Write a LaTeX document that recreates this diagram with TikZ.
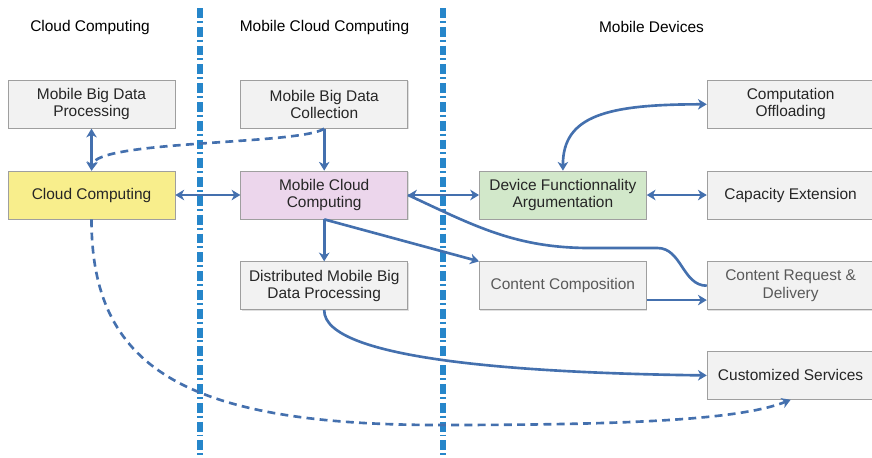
\documentclass[tikz,border=0pt]{standalone}
\usepackage{fontspec}
\setmainfont{Liberation Sans}
\usetikzlibrary{arrows.meta, positioning, shadows}
\definecolor{linkblue}{RGB}{68,112,174}
\definecolor{divblue}{RGB}{38,134,202}
\definecolor{boxgray}{RGB}{242,242,242}
\definecolor{boxyellow}{RGB}{248,238,140}
\definecolor{boxpink}{RGB}{236,214,236}
\definecolor{boxgreen}{RGB}{210,232,202}

\begin{document}
\begin{tikzpicture}[node distance=0.84cm and 1.3cm, font=\fontsize{8.8}{9.8}\selectfont,
    >={Stealth[length=5pt,width=6pt,inset=1.5pt]},
    box/.style={draw=gray!75, fill=boxgray, text=black!85, align=center, minimum width=3.34cm, minimum height=0.96cm, inner sep=2pt,
        drop shadow={shadow xshift=0.6pt, shadow yshift=-0.6pt, opacity=0.25}},
    link/.style={draw=linkblue, line width=1.5pt},
    dashlink/.style={link, dash pattern=on 4.5pt off 3pt},
    divider/.style={divblue, line width=3pt, dash pattern=on 5.6pt off 1.7pt on 1.1pt off 2.3pt}
]
  \useasboundingbox (0,0) rectangle (17.44,-9.14);

  % Column headers
  \node (hcc) at (1.8,-0.54) {Cloud Computing};
  \node (hmcc) at (6.49,-0.54) {Mobile Cloud Computing};
  \node (hmd) at (13.03,-0.54) {Mobile Devices};

  % Dividers
  \draw[divider] (4.0,-0.16) -- (4.0,-9.14);
  \draw[divider] (8.86,-0.16) -- (8.86,-9.14);

  \node[box, fill=boxyellow] (cc) at (1.83,-3.9) {Cloud Computing};
  \node[box, above=of cc] (mbdp) {Mobile Big Data\\Processing};
  \node[box, fill=boxpink, right=of cc] (mcc) {Mobile Cloud\\Computing};
  \node[box, above=of mcc] (mbdc) {Mobile Big Data\\Collection};
  \node[box, below=of mcc] (dist) {Distributed Mobile Big\\Data Processing};
  \node[box, fill=boxgreen, right=1.42cm of mcc] (dfa) {Device Functionnality\\Argumentation};
  \node[box, right=1.2cm of dfa] (cap) {Capacity Extension};
  \node[box, above=of cap] (off) {Computation\\Offloading};
  \node[box, text=black!65, below=of dfa] (comp) {Content Composition};
  \node[box, text=black!65, below=of cap] (crd) {Content Request \&\\Delivery};
  \node[box, below=0.82cm of crd] (cust) {Customized Services};

  \draw[link, <->] (mbdp) -- (cc);
  \draw[link, ->] (mbdc) -- (mcc);
  \draw[link, <->] (cc) -- (mcc);
  \draw[link, <->] (mcc) -- (dfa);
  \draw[link, <->] (dfa) -- (cap);
  \draw[link, <->] (dfa.north) .. controls +(0,1.1) and +(-2.0,0) .. (off.west);
  \draw[link, ->] (mcc) -- (dist);
  \draw[link, ->] (mcc.south) -- (comp.north west);
  \draw[link, ->] (comp.east |- crd.south) ++(0,0.2) coordinate (ce) -- (ce -| crd.west);
  \draw[link] (crd.west) to[out=180,in=0] (13.15,-4.96) -- (11.8,-4.96) to[out=180,in=-25] (mcc.east);
  \draw[link, ->] (dist.south) .. controls (6.47,-7.2) and (10.5,-7.46) .. (cust.west);

  % Dashed links
  \draw[dashlink, ->] (mbdc.south) .. controls (6.0,-2.9) and (1.9,-2.8) .. (cc.north);
  \coordinate (low) at (8.8,-8.5);
  \draw[dashlink, ->] (cc.south) .. controls (1.83,-7.3) and (3.6,-8.5) .. (low)
    .. controls (12.5,-8.5) and (14.8,-8.4) .. (cust.south);
\end{tikzpicture}
\end{document}
